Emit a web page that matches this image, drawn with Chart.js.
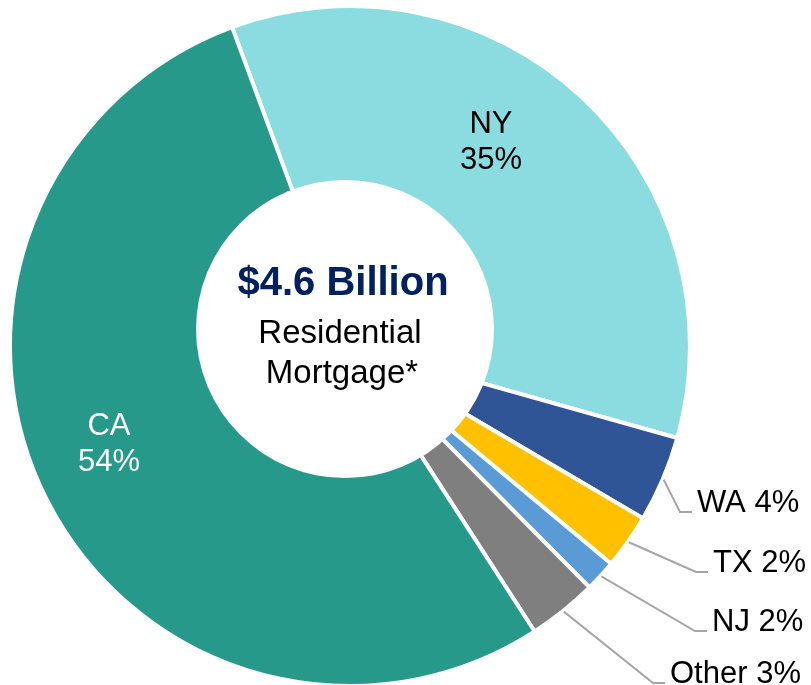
<!DOCTYPE html>
<html>
<head>
<meta charset="utf-8">
<script src="https://cdn.jsdelivr.net/npm/chart.js@4"></script>
<style>
  html, body { margin: 0; padding: 0; background: #ffffff; }
  #wrap { width: 811px; height: 685px; }
</style>
</head>
<body>
<div id="wrap"><canvas id="myChart_loans" width="811" height="685"></canvas></div>
<script>
// slices, clockwise from the CA/NY split
const states = ['NY', 'WA', 'TX', 'NJ', 'Other', 'CA'];
const shares = [35.0, 4.1, 2.6, 1.5, 3.3, 53.5];
const shareLabels = ['35%', '4%', '2%', '2%', '3%', '54%'];
const sliceColors = ['#8ADCE0', '#2F5597', '#FFC000', '#5B9BD5', '#7F7F7F', '#26998A'];

const centerTitle = '$4.6 Billion';
const centerLines = ['Residential', 'Mortgage*'];

// where the small-slice call-outs sit (text left x, baseline y)
const outsideLabels = {
  WA: [697, 512],
  TX: [713, 572],
  NJ: [712, 631],
  Other: [670, 683]
};
// labels drawn inside their slice (center x, first baseline y)
const insideLabels = {
  NY: [491, 133, '#000000'],
  CA: [109, 435, '#ffffff']
};

const FONT = '"Liberation Sans", Arial, sans-serif';

const labelPlugin = {
  id: 'labelPlugin',
  afterDatasetsDraw(chart) {
    const ctx = chart.ctx;
    const arcs = chart.getDatasetMeta(0).data;
    const cx = arcs[0].x, cy = arcs[0].y, r = arcs[0].outerRadius;

    // white center disc (sits a little up-left of the ring center)
    ctx.save();
    ctx.fillStyle = '#ffffff';
    ctx.beginPath();
    ctx.arc(cx - 5, cy - 17, 149, 0, Math.PI * 2);
    ctx.fill();

    // center text
    ctx.textAlign = 'center';
    ctx.textBaseline = 'alphabetic';
    ctx.fillStyle = '#002060';
    ctx.font = 'bold 40px ' + FONT;
    ctx.fillText(centerTitle, cx - 7, cy - 51);
    ctx.fillStyle = '#000000';
    ctx.font = '33px ' + FONT;
    ctx.fillText(centerLines[0], cx - 10, cy - 3);
    ctx.fillText(centerLines[1], cx - 8, cy + 37);

    ctx.font = '31px ' + FONT;
    states.forEach((s, i) => {
      const arc = arcs[i];
      if (insideLabels[s]) {
        const p = insideLabels[s];
        ctx.textAlign = 'center';
        ctx.fillStyle = p[2];
        ctx.fillText(s, p[0], p[1]);
        ctx.fillText(shareLabels[i], p[0], p[1] + 36);
      } else if (outsideLabels[s]) {
        const p = outsideLabels[s];
        const mid = (arc.startAngle + arc.endAngle) / 2;
        const sx = cx + Math.cos(mid) * (r + 1);
        const sy = cy + Math.sin(mid) * (r + 1);
        ctx.strokeStyle = '#A6A6A6';
        ctx.lineWidth = 2;
        ctx.beginPath();
        ctx.moveTo(sx, sy);
        ctx.lineTo(p[0] - 17, p[1]);
        ctx.lineTo(p[0] - 5, p[1]);
        ctx.stroke();
        ctx.textAlign = 'left';
        ctx.fillStyle = '#000000';
        ctx.fillText(s + ' ' + shareLabels[i], p[0], p[1]);
      }
    });
    ctx.restore();
  }
};

const data_loans = {
  labels: states,
  datasets: [{
    data: shares,
    backgroundColor: sliceColors,
    borderColor: '#ffffff',
    borderWidth: 4
  }]
};

const config_loans = {
  type: 'doughnut',
  data: data_loans,
  options: {
    responsive: false,
    animation: false,
    rotation: -20.3,
    radius: 340,
    cutout: 120,
    layout: {
      padding: { left: 10, right: 121, top: 8, bottom: 1 }
    },
    plugins: {
      legend: { display: false },
      tooltip: { enabled: false }
    }
  },
  plugins: [labelPlugin]
};

const myChart = new Chart(document.getElementById('myChart_loans').getContext('2d'), config_loans);
</script>
</body>
</html>
